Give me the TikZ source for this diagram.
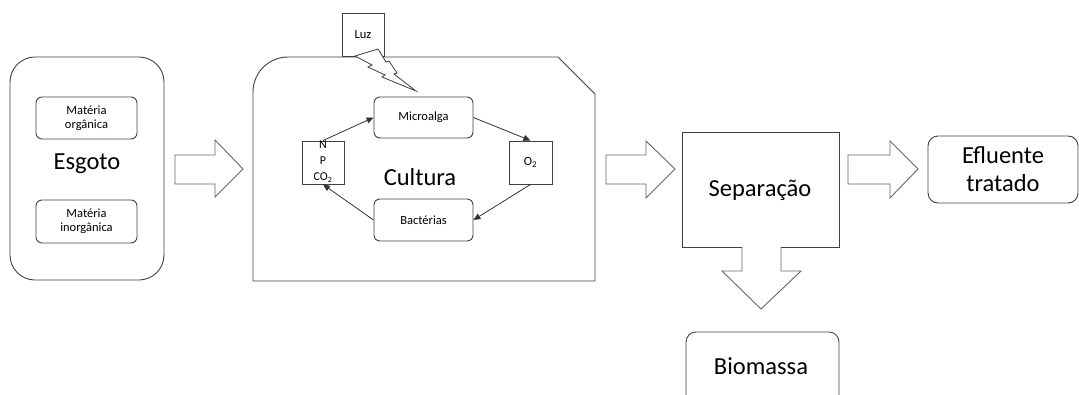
\documentclass[tikz,border=0pt]{standalone}
\usepackage{fontspec}
\setmainfont{Carlito}
\usetikzlibrary{arrows.meta}
\begin{document}
\begin{tikzpicture}[x=1pt,y=-1pt,
  ln/.style={draw=black!75,line width=0.9pt},
  box/.style={ln,rounded corners=6pt,inner sep=0pt,align=center,font=\fontsize{12.5}{14}\selectfont},
  sqbox/.style={ln,inner sep=0pt,align=center,font=\fontsize{12.5}{14}\selectfont},
  big/.style={font=\fontsize{24.5}{28}\selectfont,inner sep=0pt,align=center},
  blk/.style={draw=black!60,line width=0.9pt,fill=white,line join=miter},
  con/.style={draw=black!80,line width=0.8pt,-{Triangle[length=7pt,width=6pt]}}]
\useasboundingbox (0,0) rectangle (1079,394);
\clip (0,0) rectangle (1079,394);

% Esgoto
\node[ln,rounded corners=25pt,minimum width=154pt,minimum height=223pt] (esg) at (87,168.5) {};
\node[box,minimum width=101pt,minimum height=42pt] (mo) at (86.5,118) {Matéria\\orgânica};
\node[box,minimum width=101pt,minimum height=43pt] (mi) at (86.5,221.5) {Matéria\\inorgânica};
\node[big] (esgt) at (87,164) {Esgoto};

% Arrow 1
\draw[blk] (175,155) -- (215,155) -- (215,140) -- (243,169) -- (215,197) -- (215,184) -- (175,184) -- cycle;

% Cultura container
\draw[ln] (253,281) -- (253,92) arc[start angle=180,end angle=270,radius=35] -- (558,57) -- (595,94) -- (595,281) -- cycle;
\node[sqbox,minimum width=42pt,minimum height=43pt] (luz) at (363,34.5) {Luz};
\draw[ln,fill=white,line width=0.8pt,line join=miter] (355,56) -- (378,49) -- (386,62) -- (389,61) -- (397,73) -- (394,74) -- (416,91) -- (382,77) -- (385,75) -- (368,67) -- (372,65) -- cycle;
\node[big] (cult) at (420,177) {Cultura};

\node[box,minimum width=99pt,minimum height=41pt] (mic) at (423.5,117.5) {Microalga};
\node[box,minimum width=99pt,minimum height=42pt] (bac) at (423.5,220) {Bactérias};
\node[sqbox,minimum width=42pt,minimum height=43pt] (np) at (323,162.5) {};
\node[font=\fontsize{12}{16}\selectfont,align=center,inner sep=0pt] (npt) at (323,162) {N\\P\\CO\textsubscript{2}};
\node[sqbox,minimum width=43pt,minimum height=43pt] (o2) at (530.5,162.5) {O\textsubscript{2}};

\draw[con] (np.north) -- (mic.west);
\draw[con] (mic.east) -- (o2.north);
\draw[con] (o2.south) -- (bac.east);
\draw[con] (bac.west) -- (np.south);

% Arrow 2
\draw[blk] (606,155) -- (646,155) -- (646,141) -- (675,169) -- (646,198) -- (646,184) -- (606,184) -- cycle;

% Separacao
\node[ln,minimum width=157pt,minimum height=115pt,inner sep=0pt] (sep) at (760.5,189.5) {};
\node[big] (sept) at (760,190) {Separação};

% Down arrow
\draw[blk] (742,247) -- (742,271) -- (722,271) -- (761,309) -- (801,271) -- (781,271) -- (781,247);

% Arrow 3
\draw[blk] (848,155) -- (890,155) -- (890,141) -- (918,169) -- (890,198) -- (890,184) -- (848,184) -- cycle;

% Efluente
\node[ln,rounded corners=10pt,minimum width=150pt,minimum height=67pt,inner sep=0pt,big] (efl) at (1003,169.5) {Efluente\\tratado};

% Biomassa
\node[ln,rounded corners=10pt,minimum width=153pt,minimum height=80pt,inner sep=0pt] (bio) at (762.5,372) {};
\node[big] (biot) at (761,366) {Biomassa};
\end{tikzpicture}
\end{document}
